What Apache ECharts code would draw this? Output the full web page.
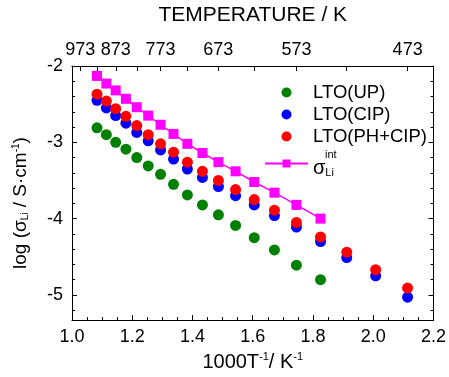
<!DOCTYPE html>
<html>
<head>
<meta charset="utf-8">
<script src="https://cdn.jsdelivr.net/npm/echarts@6/dist/echarts.min.js"></script>
<style>
  html, body { margin: 0; padding: 0; background: #fff; }
  #chart { width: 449px; height: 377px; }
</style>
</head>
<body>
<div id="chart"></div>
<script>
// 1000/T values (K^-1), temperatures 923 K ... 473 K in 25 K steps
const invT = [1.083, 1.114, 1.145, 1.179, 1.215, 1.253, 1.294, 1.337, 1.383, 1.433,
  1.486, 1.543, 1.605, 1.672, 1.745, 1.825, 1.912, 2.008, 2.114];
// log conductivity values
const ltoUP = [-2.81, -2.90, -3.00, -3.09, -3.20, -3.31, -3.42, -3.55, -3.69, -3.82,
  -3.95, -4.09, -4.25, -4.41, -4.61, -4.80];
const ltoCIP = [-2.45, -2.55, -2.65, -2.75, -2.87, -2.98, -3.10, -3.22, -3.35, -3.46,
  -3.58, -3.70, -3.82, -3.96, -4.11, -4.30, -4.51, -4.75, -5.03];
const ltoPHCIP = [-2.37, -2.46, -2.56, -2.66, -2.78, -2.90, -3.02, -3.13, -3.26, -3.38,
  -3.50, -3.62, -3.75, -3.89, -4.05, -4.24, -4.44, -4.67, -4.91];
const sigmaInt = [-2.13, -2.23, -2.32, -2.43, -2.54, -2.65, -2.77, -2.89, -3.02, -3.14,
  -3.26, -3.38, -3.52, -3.66, -3.82, -4.00];
// top axis (temperature in K)
const topTickTemps = [973, 923, 873, 823, 773, 723, 673, 623, 573, 523, 473];
const topLabelTemps = [973, 873, 773, 673, 573, 473];

const font = "'Liberation Sans', Arial, sans-serif";
const pairs = (ys) => ys.map((y, i) => [invT[i], y]);

const myChart = echarts.init(document.getElementById('chart'));

const tickStyle = { inside: true, length: 5, lineStyle: { color: '#000', width: 1 } };
const minorStyle = { show: true, splitNumber: 4, length: 3, lineStyle: { color: '#000', width: 1 } };

let option = {
  backgroundColor: '#fff',
  animation: false,
  grid: { left: 72, right: 15, top: 60, bottom: 45 },
  legend: {
    orient: 'vertical',
    left: 259,
    top: 78,
    itemWidth: 43,
    itemHeight: 10,
    itemGap: 3,
    textStyle: {
      fontFamily: font, fontSize: 18.5, color: '#000',
      rich: {
        p: { width: 12, fontSize: 10, lineHeight: 9 },
        sup: { fontFamily: font, fontSize: 11, lineHeight: 9, color: '#000' },
        sig: { fontFamily: font, fontSize: 20, lineHeight: 18, color: '#000' },
        sub: { fontFamily: font, fontSize: 11, lineHeight: 18, color: '#000', padding: [9, 0, 0, 0] }
      }
    },
    formatter: function (name) {
      if (name === 'sigma') return '{p| }{sup|int}\n{sig|σ}{sub|Li}';
      return name;
    },
    data: [
      { name: 'LTO(UP)', icon: 'circle' },
      { name: 'LTO(CIP)', icon: 'circle' },
      { name: 'LTO(PH+CIP)', icon: 'circle' },
      { name: 'sigma' }
    ]
  },
  xAxis: [
    {
      type: 'value',
      min: 1.0,
      max: 2.2,
      interval: 0.2,
      name: '1000T{sup|-1}/ K{sup|-1}',
      nameLocation: 'middle',
      nameGap: 27,
      nameTextStyle: {
        fontFamily: font, fontSize: 20, color: '#000',
        rich: { sup: { fontFamily: font, fontSize: 11, color: '#000', padding: [0, 0, 11, 0] } }
      },
      axisLine: { lineStyle: { color: '#000', width: 1 } },
      axisTick: tickStyle,
      minorTick: minorStyle,
      splitLine: { show: false },
      axisLabel: {
        fontFamily: font, fontSize: 18, color: '#000', margin: 8,
        formatter: (v) => v.toFixed(1)
      }
    },
    {
      type: 'value',
      position: 'top',
      min: 1.0,
      max: 2.2,
      name: 'TEMPERATURE / K',
      nameLocation: 'middle',
      nameGap: 40,
      nameTextStyle: { fontFamily: font, fontSize: 21, color: '#000' },
      axisLine: { lineStyle: { color: '#000', width: 1 } },
      axisTick: Object.assign({}, tickStyle, { customValues: topTickTemps.map((t) => 1000 / t) }),
      splitLine: { show: false },
      axisLabel: {
        fontFamily: font, fontSize: 18, color: '#000', margin: 7,
        customValues: topLabelTemps.map((t) => 1000 / t),
        formatter: (v) => String(Math.round(1000 / v))
      }
    }
  ],
  yAxis: [
    {
      type: 'value',
      min: -5.33,
      max: -2,
      splitNumber: 4,
      name: 'log (σ{sub|Li} / S·cm{sup|-1})',
      nameLocation: 'middle',
      nameRotate: 90,
      nameGap: 41,
      nameTextStyle: {
        fontFamily: font, fontSize: 19, color: '#000',
        padding: [0, 0, 0, -20],
        rich: {
          sub: { fontFamily: font, fontSize: 10, color: '#000', padding: [8, 0, 0, 0] },
          sup: { fontFamily: font, fontSize: 10, color: '#000', padding: [0, 0, 10, 0] }
        }
      },
      axisLine: { show: true, lineStyle: { color: '#000', width: 1 } },
      axisTick: tickStyle,
      minorTick: Object.assign({}, minorStyle, { splitNumber: 5 }),
      splitLine: { show: false },
      axisLabel: {
        fontFamily: font, fontSize: 18, color: '#000', margin: 9,
        showMinLabel: false
      }
    },
    {
      type: 'value',
      position: 'right',
      min: -5.33,
      max: -2,
      splitNumber: 4,
      axisLine: { show: true, lineStyle: { color: '#000', width: 1 } },
      axisTick: tickStyle,
      minorTick: Object.assign({}, minorStyle, { splitNumber: 5 }),
      splitLine: { show: false },
      axisLabel: { show: false }
    }
  ],
  series: [
    {
      name: 'LTO(UP)',
      type: 'scatter',
      data: pairs(ltoUP),
      symbol: 'circle',
      symbolSize: 11,
      itemStyle: { color: '#008000', opacity: 1 }
    },
    {
      name: 'LTO(CIP)',
      type: 'scatter',
      data: pairs(ltoCIP),
      symbol: 'circle',
      symbolSize: 11,
      itemStyle: { color: '#0000ff', opacity: 1 }
    },
    {
      name: 'LTO(PH+CIP)',
      type: 'scatter',
      data: pairs(ltoPHCIP),
      symbol: 'circle',
      symbolSize: 11,
      itemStyle: { color: '#ff0000', opacity: 1 }
    },
    {
      name: 'sigma',
      type: 'line',
      data: pairs(sigmaInt),
      symbol: 'rect',
      symbolSize: 10,
      showAllSymbol: true,
      lineStyle: { color: '#ff00ff', width: 1.5 },
      itemStyle: { color: '#ff00ff' }
    }
  ]
};
myChart.setOption(option);
</script>
</body>
</html>
